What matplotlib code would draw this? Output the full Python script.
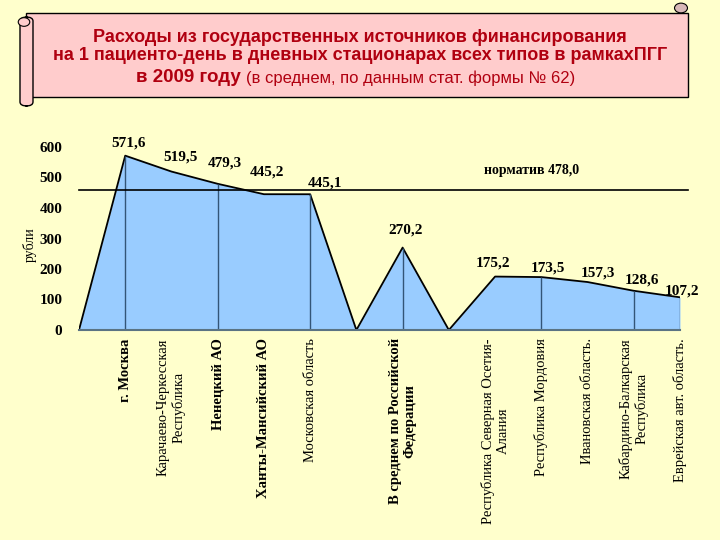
import matplotlib.pyplot as plt
from matplotlib.patches import FancyBboxPatch, Circle, Rectangle

# data (zero points separate the groups)
regions = ["", "г. Москва", "Карачаево-Черкесская\nРеспублика", "Ненецкий АО",
           "Ханты-Мансийский АО", "Московская область", "",
           "В среднем по Российской\nФедерации", "",
           "Республика Северная Осетия-\nАлания", "Республика Мордовия",
           "Ивановская область.", "Кабардино-Балкарская\nРеспублика",
           "Еврейская авт. область."]
costs = [0, 571.6, 519.5, 479.3, 445.2, 445.1, 0, 270.2, 0, 175.2, 173.5, 157.3, 128.6, 107.2]
cost_labels = ["571,6", "519,5", "479,3", "445,2", "445,1", "270,2",
               "175,2", "173,5", "157,3", "128,6", "107,2"]
norm_value = 478.0
norm_line = 460      # where the line sits in the picture
yticks = [0, 100, 200, 300, 400, 500, 600]
drop_idx = [1, 3, 5, 7, 10, 12, 13]
bold_labels = {1, 3, 4, 7}

# label offsets in pixels (dx, dy)
label_off = [(3, 13), (9, 15), (7, 21), (3, 22), (15, 11), (3, 18),
             (-2, 14), (7, 9), (10, 9), (8, 11), (2, 6)]

bg = "#FFFFCC"
serif = ["Liberation Serif", "DejaVu Serif"]
sans = ["Liberation Sans", "DejaVu Sans"]

fig = plt.figure(figsize=(7.2, 5.4), dpi=100, facecolor=bg)
ax = fig.add_axes([79 / 720, 1 - 330 / 540, 601 / 720, 183 / 540])
ax.set_facecolor(bg)

x = list(range(len(costs)))
ax.fill_between(x, costs, 0, color="#99CCFF", lw=0)
ax.plot(x, costs, color="black", lw=1.3)
ax.vlines(drop_idx, 0, [costs[i] for i in drop_idx], color="#335577", lw=1.0)
ax.axhline(norm_line, xmin=0, xmax=1.013, color="black", lw=1.2, clip_on=False)

nz = [i for i, v in enumerate(costs) if v > 0]
for k, i in enumerate(nz):
    ax.annotate(cost_labels[k], (i, costs[i]), xytext=label_off[k],
                textcoords="offset pixels", ha="center", va="center",
                fontsize=11, fontweight="bold", family=serif, annotation_clip=False)

ax.text(9.8, norm_line + 62, "норматив " + f"{norm_value:.1f}".replace(".", ","),
        ha="center", va="center", fontsize=10, fontweight="bold", family=serif)

ax.set_xlim(0, 13)
ax.set_ylim(0, 600)
ax.set_yticks(yticks)
ax.set_yticklabels([str(t) for t in yticks], fontsize=11, fontweight="bold", family=serif)
ax.tick_params(axis="y", length=0, pad=12)
ax.set_xticks(x)
ax.set_xticklabels(regions, rotation=90, va="top", ha="center",
                   multialignment="center", fontsize=10.5, family=serif)
for i, t in enumerate(ax.get_xticklabels()):
    if i in bold_labels:
        t.set_fontweight("bold")
ax.tick_params(axis="x", length=0, pad=6)
for s in ["top", "right", "left"]:
    ax.spines[s].set_visible(False)
ax.spines["bottom"].set_color("#5a7383")
ax.spines["bottom"].set_linewidth(1.5)

fig.text(30 / 720, 1 - 245 / 540, "рубли", rotation=90, ha="center", va="center",
         fontsize=10, family=serif)

# title scroll
def fx(px):
    return px / 720


def fy(py):
    return 1 - py / 540


pink = "#FFCCCC"
fig.patches.append(Rectangle((fx(26), fy(97)), fx(688) - fx(26), fy(13) - fy(97),
                             transform=fig.transFigure, facecolor=pink,
                             edgecolor="black", lw=1.0))
fig.patches.append(FancyBboxPatch((fx(20), fy(106)), fx(33) - fx(20), fy(17) - fy(106),
                                  boxstyle="round,pad=0,rounding_size=0.01",
                                  transform=fig.transFigure, facecolor=pink,
                                  edgecolor="black", lw=1.0, mutation_aspect=0.75))
fig.patches.append(Circle((fx(24), fy(22)), 0.008, transform=fig.transFigure,
                          facecolor=pink, edgecolor="black", lw=0.8))
fig.patches.append(Circle((fx(681), fy(8)), 0.009, transform=fig.transFigure,
                          facecolor="#D8B8B8", edgecolor="black", lw=0.8))

red = "#B00010"
fig.text(0.5, fy(37), "Расходы из государственных источников финансирования",
         ha="center", va="center", fontsize=13, fontweight="bold", color=red, family=sans)
fig.text(0.5, fy(56), "на 1 пациенто-день в дневных стационарах всех типов в рамкахПГГ",
         ha="center", va="center", fontsize=13, fontweight="bold", color=red, family=sans)
fig.text(fx(241), fy(78), "в 2009 году", ha="right", va="center", fontsize=13.5,
         fontweight="bold", color=red, family=sans)
fig.text(fx(246), fy(78), "(в среднем, по данным стат. формы № 62)", ha="left",
         va="center", fontsize=12, color=red, family=sans)

fig.savefig("out.png", dpi=100, facecolor=bg)
